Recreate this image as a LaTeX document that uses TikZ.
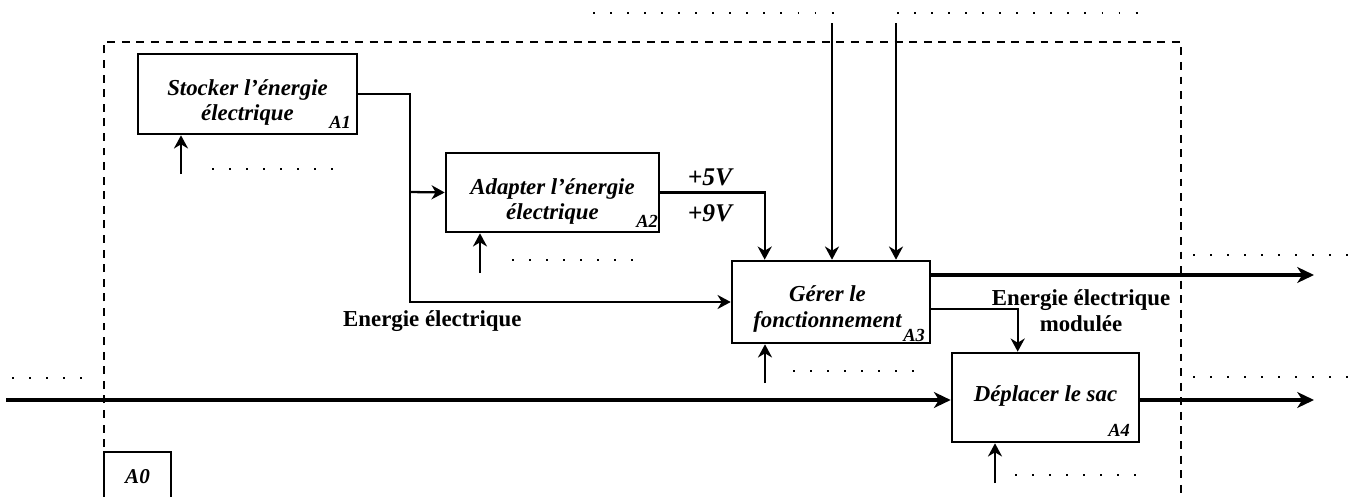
\documentclass[tikz,border=0pt]{standalone}
\usepackage{fontspec}
\setmainfont{Liberation Serif}
\usetikzlibrary{arrows.meta,calc}

\tikzset{
	fbox/.style={draw, line width=1.5pt, fill=white, inner sep=0pt},
	ftxt/.style={align=center, font=\fontsize{13}{14.4}\selectfont\bfseries\itshape},
	idx/.style={anchor=base east, inner sep=0pt, font=\fontsize{10.5}{11}\selectfont\bfseries\itshape},
	volt/.style={anchor=base, inner sep=0pt, font=\fontsize{14.5}{15}\selectfont\bfseries\itshape},
	lbl/.style={align=center, font=\fontsize{13}{14.6}\selectfont\bfseries},
	flow/.style={line width=1.3pt, -{Stealth[length=7.5pt,width=8pt,inset=2.4pt]}},
	flowthick/.style={line width=2.1pt, -{Stealth[length=9.5pt,width=9pt,inset=2.8pt]}},
	frame/.style={line width=1pt, dash pattern=on 4.5pt off 3.8pt},
	dotrow/.style={line width=1.1pt, dash pattern=on 1.1pt off 8.6pt}
}

\begin{document}
\begin{tikzpicture}[x=0.02cm, y=-0.02cm]
	\clip (0,0) rectangle (1357,497);
	
	% cadre A0
	\draw[frame] (104,520) |- (1181,42) -- (1181,520);
	
	% fonctions
	\node[fbox, minimum width=4.38cm, minimum height=1.6cm] (a1) at (247.5,94) {};
	\node[fbox, minimum width=4.26cm, minimum height=1.58cm] (a2) at (552.5,192.5) {};
	\node[fbox, minimum width=3.96cm, minimum height=1.64cm] (a3) at (831,302) {};
	\node[fbox, minimum width=3.74cm, minimum height=1.78cm] (a4) at (1045.5,397.5) {};
	
	\node[ftxt] (t1) at ([yshift=-5pt]a1.center) {Stocker l’énergie\\électrique};
	\node[ftxt] (t2) at ([yshift=-5pt]a2.center) {Adapter l’énergie\\électrique};
	\node[ftxt] (t3) at ([yshift=-4pt,xshift=-2pt]a3.center) {Gérer le\\fonctionnement};
	\node[ftxt] (t4) at ([yshift=1pt]a4.center) {Déplacer le sac};
	
	\node[idx] (n1) at ($(a1.south east)+(-7,-7)$) {A1};
	\node[idx] (n2) at ($(a2.south east)+(-2,-6)$) {A2};
	\node[idx] (n3) at ($(a3.south east)+(-6,-3)$) {A3};
	\node[idx] (n4) at ($(a4.south east)+(-10,-7)$) {A4};
	
	\node[fbox, line width=1pt, anchor=north, minimum width=1.34cm, minimum height=1cm,
		font=\fontsize{12}{13}\selectfont\bfseries\itshape] (a0) at (137.5,451) {A0};
	
	% liaisons
	\coordinate (s1) at (410,192);
	\draw[flow] (a1.east) -| (s1) |- (a3.west);
	\draw[flow] (s1) -- (a2.west);
	\draw[flow] (a2.east) -| ($(a3.north west)+(34,0)$);
	\draw[flow] ($(a3.east)+(0,7)$) -| ($(a4.north west)+(67,0)$);
	
	\coordinate (e1) at (832,23);
	\coordinate (e2) at (896,23);
	\draw[flow] (e1) -- (e1 |- a3.north);
	\draw[flow] (e2) -- (e2 |- a3.north);
	
	\coordinate (c1) at (181,174);
	\coordinate (c2) at (480,273);
	\coordinate (c3) at (765,383);
	\coordinate (c4) at (995,483);
	\draw[flow] (c1) -- (c1 |- a1.south);
	\draw[flow] (c2) -- (c2 |- a2.south);
	\draw[flow] (c3) -- (c3 |- a3.south);
	\draw[flow] (c4) -- (c4 |- a4.south);
	
	\coordinate (i0) at (6,400);
	\coordinate (o1) at (1314,275);
	\coordinate (o2) at (1314,400);
	\draw[flowthick] (i0) -- (i0 -| a4.west);
	\draw[flowthick] (o1 -| a3.east) -- (o1);
	\draw[flowthick] (o2 -| a4.east) -- (o2);
	
	% pointilles
	\draw[dotrow] (212,169) -- (345,169);
	\draw[dotrow] (512,260) -- (645,260);
	\draw[dotrow] (793,371) -- (925,371);
	\draw[dotrow] (1015,475) -- (1148,475);
	\draw[dotrow] (12,378) -- (92,378);
	\draw[dotrow] (593,13) -- (840,13);
	\draw[dotrow] (897,13) -- (1145,13);
	\draw[dotrow] (1193,255) -- (1357,255);
	\draw[dotrow] (1193,377) -- (1357,377);
	
	% textes
	\node[volt] (v5) at (710,185) {+5V};
	\node[volt] (v9) at (710,221) {+9V};
	\node[lbl, anchor=base west] (en1) at (337,326) {Energie électrique};
	\node[lbl] (en2) at (1081,311) {Energie électrique\\modulée};
\end{tikzpicture}
\end{document}
